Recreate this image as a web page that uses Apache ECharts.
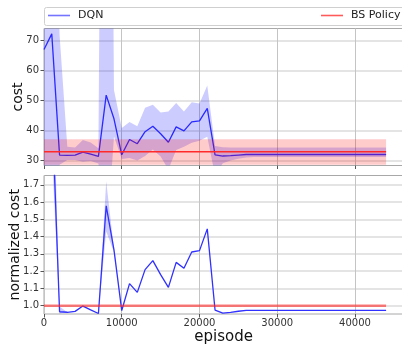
<!DOCTYPE html>
<html>
<head>
<meta charset="utf-8">
<script src="https://cdn.jsdelivr.net/npm/echarts@6/dist/echarts.min.js"></script>
<style>
  html, body { margin: 0; padding: 0; background: #fff; }
  #chart { width: 402px; height: 344px; }
</style>
</head>
<body>
<div id="chart"></div>
<script>
// episodes, one sample every 1000
var episodes = [0,1000,2000,3000,4000,5000,6000,7000,8000,9000,10000,11000,12000,13000,14000,15000,16000,17000,18000,19000,20000,
  21000,22000,23000,24000,25000,26000,27000,28000,29000,30000,31000,32000,33000,34000,35000,36000,37000,38000,39000,40000,
  41000,42000,43000,44000];

// DQN cost (mean, upper, lower of shaded band)
var dqnCost = [67.0,72.2,31.8,31.7,31.8,32.8,32.1,31.4,51.8,43.9,31.9,37.0,35.6,39.6,41.4,38.9,36.1,41.2,39.9,42.9,43.2,
  47.4,31.9,31.5,31.6,31.8,32.0,32.0,32.0,32.0,32.0,32.0,32.0,32.0,32.0,32.0,32.0,32.0,32.0,32.0,32.0,
  32.0,32.0,32.0,32.0];
var dqnCostHi = [120,200,72,34.6,34.3,36.8,36.0,34.1,400,53.5,40.8,42.8,41.4,47.6,48.6,46.0,46.3,49.2,46.3,49.4,49.0,
  55.0,34.8,34.4,34.3,34.3,34.3,34.3,34.3,34.3,34.3,34.3,34.3,34.3,34.3,34.3,34.3,34.3,34.3,34.3,34.3,
  34.3,34.3,34.3,34.3];
var dqnCostLo = [10,10,28.6,30.2,30.2,29.6,29.8,29.0,0,38.0,30.5,30.8,30.0,31.5,33.7,31.3,27.0,33.5,34.6,35.9,36.6,
  37.9,25.0,29.1,30.0,30.6,31.0,31.2,31.2,31.2,31.2,31.2,31.2,31.2,31.2,31.2,31.2,31.2,31.2,31.2,31.2,
  31.2,31.2,31.2,31.2];

// BS policy cost (constant)
var bsCost = 32.9, bsCostHi = 37.1, bsCostLo = 28.6;

// normalized cost of DQN
var dqnNorm = [2.04,2.19,0.965,0.962,0.967,0.998,0.976,0.955,1.578,1.323,0.972,1.128,1.077,1.209,1.261,1.180,1.106,1.251,1.217,1.311,1.319,
  1.445,0.975,0.957,0.962,0.968,0.973,0.973,0.973,0.973,0.973,0.973,0.973,0.973,0.973,0.973,0.973,0.973,0.973,0.973,0.973,
  0.973,0.973,0.973,0.973];
var dqnNormHi = [2.1,2.6,0.995,0.962,0.967,0.998,0.976,0.955,1.72,1.33,0.972,1.128,1.077,1.209,1.261,1.180,1.106,1.251,1.217,1.311,1.319,
  1.445,0.975,0.957,0.962,0.968,0.973,0.973,0.973,0.973,0.973,0.973,0.973,0.973,0.973,0.973,0.973,0.973,0.973,0.973,0.973,
  0.973,0.973,0.973,0.973];
var dqnNormLo = [1.9,1.9,0.955,0.962,0.967,0.998,0.976,0.955,1.43,1.31,0.972,1.128,1.077,1.209,1.261,1.180,1.106,1.251,1.217,1.311,1.319,
  1.445,0.975,0.957,0.962,0.968,0.973,0.973,0.973,0.973,0.973,0.973,0.973,0.973,0.973,0.973,0.973,0.973,0.973,0.973,0.973,
  0.973,0.973,0.973,0.973];
var bsNorm = 1.0;

var costTicks = [30,40,50,60,70];
var normTicks = [1.0,1.1,1.2,1.3,1.4,1.5,1.6,1.7];
var xTicks = [0,10000,20000,30000,40000];

var xEnd = episodes[episodes.length - 1];
var font = 'DejaVu Sans';

function pairs(ys) {
  return episodes.map(function (x, i) { return [x, ys[i]]; });
}

// shaded band between two curves, clipped to the grid
function band(xs, hi, lo, gridIdx, color, z) {
  return {
    type: 'custom', xAxisIndex: gridIdx, yAxisIndex: gridIdx, silent: true, z: z,
    data: [[xs[0], lo[0]]],
    renderItem: function (params, api) {
      var pts = [];
      for (var i = 0; i < xs.length; i++) pts.push(api.coord([xs[i], hi[i]]));
      for (var j = xs.length - 1; j >= 0; j--) pts.push(api.coord([xs[j], lo[j]]));
      var cs = params.coordSys;
      return {
        type: 'polygon',
        shape: { points: pts },
        style: { fill: color },
        clipPath: { type: 'rect', shape: { x: cs.x, y: cs.y, width: cs.width, height: cs.height } }
      };
    }
  };
}

var chart = echarts.init(document.getElementById('chart'));

function xAxisCfg(idx, showLabels) {
  return {
    type: 'value', gridIndex: idx, min: 0, max: 46200,
    axisLine: { show: false },
    axisTick: { show: true, length: 3.5, customValues: xTicks, lineStyle: { color: '#555' } },
    axisLabel: { show: showLabels, customValues: xTicks, color: '#333', fontSize: 10, fontFamily: font, margin: 4,
      formatter: function (v) { return String(v); } },
    splitLine: { show: true, lineStyle: { color: '#c4c4c4', width: 1 } },
    name: showLabels ? 'episode' : '',
    nameLocation: 'middle', nameGap: 16, nameMoveOverlap: false,
    nameTextStyle: { fontSize: 15, color: '#111', fontFamily: font }
  };
}

chart.setOption({
  animation: false,
  backgroundColor: '#fff',
  graphic: [{
    type: 'rect', shape: { x: 44.5, y: 7.5, width: 362, height: 18, r: 2 },
    style: { fill: '#fff', stroke: '#cfcfcf', lineWidth: 1 }, z: 10
  }],
  legend: [{
    data: [{ name: 'DQN', icon: 'rect', itemStyle: { color: '#7474ff' } }],
    left: 48, top: 10, padding: 0, itemWidth: 22, itemHeight: 1.6,
    textStyle: { fontSize: 11, color: '#222', fontFamily: font, padding: [0, 0, 0, 3] },
    z: 11
  }, {
    data: [{ name: 'BS Policy', icon: 'rect', itemStyle: { color: '#ff5a5a' } }],
    left: 321, top: 10, padding: 0, itemWidth: 22, itemHeight: 1.6,
    textStyle: { fontSize: 11, color: '#222', fontFamily: font, padding: [0, 0, 0, 3] },
    z: 11
  }],
  grid: [
    { left: 44, top: 28.5, width: 359.2, height: 137, outerBoundsMode: 'none', show: true,
      borderColor: '#a8a8a8', borderWidth: 1, backgroundColor: 'transparent' },
    { left: 44, top: 175.5, width: 359.2, height: 138.5, outerBoundsMode: 'none', show: true,
      borderColor: '#a8a8a8', borderWidth: 1, backgroundColor: 'transparent' }
  ],
  xAxis: [xAxisCfg(0, false), xAxisCfg(1, true)],
  yAxis: [{
    type: 'value', gridIndex: 0, min: 28.34, max: 74,
    axisLine: { show: false },
    axisTick: { show: true, length: 3.5, customValues: costTicks, lineStyle: { color: '#555' } },
    axisLabel: { customValues: costTicks, color: '#333', fontSize: 10, fontFamily: font, margin: 5 },
    splitLine: { show: true, lineStyle: { color: '#e4e4e4', width: 2 } },
    name: 'cost', nameLocation: 'middle', nameGap: 19, nameMoveOverlap: false,
    nameTextStyle: { fontSize: 14, color: '#111', fontFamily: font }
  }, {
    type: 'value', gridIndex: 1, min: 0.952, max: 1.754,
    axisLine: { show: false },
    axisTick: { show: true, length: 3.5, customValues: normTicks, lineStyle: { color: '#555' } },
    axisLabel: {
      customValues: normTicks, color: '#333', fontSize: 10, fontFamily: font, margin: 5,
      formatter: function (v) { return v.toFixed(1); }
    },
    splitLine: { show: true, lineStyle: { color: '#e4e4e4', width: 2 } },
    name: 'normalized cost', nameLocation: 'middle', nameGap: 22, nameMoveOverlap: false,
    nameTextStyle: { fontSize: 14, color: '#111', fontFamily: font }
  }],
  series: [
    band(episodes, dqnCostHi, dqnCostLo, 0, 'rgba(0,0,255,0.2)', 1),
    { name: 'DQN', type: 'line', xAxisIndex: 0, yAxisIndex: 0, data: pairs(dqnCost),
      symbol: 'none', lineStyle: { color: '#2a2aff', width: 1.3 }, itemStyle: { color: '#2a2aff' }, z: 2 },
    band([0, xEnd], [bsCostHi, bsCostHi], [bsCostLo, bsCostLo], 0, 'rgba(255,0,0,0.2)', 3),
    { name: 'BS Policy', type: 'line', xAxisIndex: 0, yAxisIndex: 0, data: [[0, bsCost], [xEnd, bsCost]],
      symbol: 'none', lineStyle: { color: '#ff2a2a', width: 1.5 }, itemStyle: { color: '#ff2a2a' }, z: 4 },

    band(episodes, dqnNormHi, dqnNormLo, 1, 'rgba(0,0,255,0.2)', 1),
    { type: 'line', xAxisIndex: 1, yAxisIndex: 1, data: pairs(dqnNorm),
      symbol: 'none', lineStyle: { color: '#3030ff', width: 1.3 }, z: 2 },
    { type: 'line', xAxisIndex: 1, yAxisIndex: 1, data: [[0, bsNorm], [xEnd, bsNorm]],
      symbol: 'none', lineStyle: { color: 'rgba(255,40,40,0.6)', width: 2.5 }, z: 3 }
  ]
});
</script>
</body>
</html>
